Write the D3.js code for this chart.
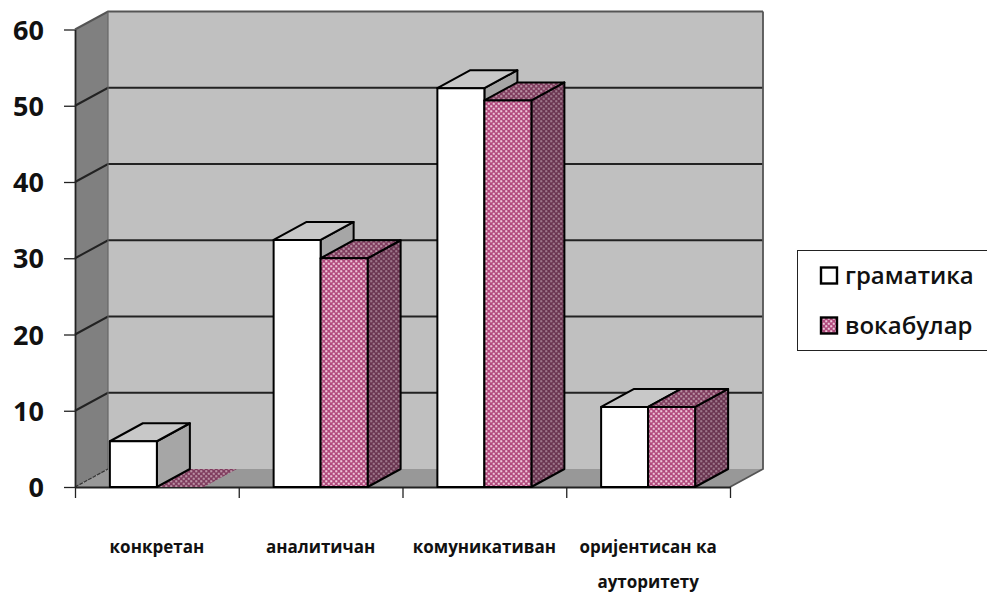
<!DOCTYPE html>
<html>
<head>
<meta charset="utf-8">
<script src="https://cdnjs.cloudflare.com/ajax/libs/d3/7.8.5/d3.min.js"></script>
<style>
html,body{margin:0;padding:0;background:#fff;}
svg{display:block;}
text{font-family:"Open Sans","Noto Sans",sans-serif;fill:#111;}
</style>
</head>
<body>
<svg id="chart" width="987" height="594"></svg>
<script>
// Chart content
const categories = ["конкретан", "аналитичан", "комуникативан", "оријентисан ка|ауторитету"];
const seriesNames = ["граматика", "вокабулар"];
const gramatika = [6, 32.4, 52.3, 10.5];
const vokabular = [0, 30, 50.7, 10.5];
const yTicks = [0, 10, 20, 30, 40, 50, 60];

const svg = d3.select("#chart");

// Oblique projection: every point gets a screen offset according to its depth
const depth = {dx: 33, dy: -18};
const x = d3.scaleBand().domain(categories).range([75, 730]);
const y = d3.scaleLinear().domain([0, 60]).range([487, 29.5]);
const series = d3.scaleBand().domain(seriesNames).range([0, x.bandwidth()]).paddingInner(0).paddingOuter(0.742);

const line = d3.line();
const poly = pts => line(pts) + "Z";
const back = ([a, b]) => [a + depth.dx, b + depth.dy];

// Fill patterns for the pink series, one per face shade
const defs = svg.append("defs");
function dotPattern(id, base, dot, hole) {
  const p = defs.append("pattern").attr("id", id)
    .attr("patternUnits", "userSpaceOnUse").attr("width", 5).attr("height", 5);
  p.append("rect").attr("width", 5).attr("height", 5).attr("fill", base);
  [[1.25, 1.25], [3.75, 3.75]].forEach(([a, b]) =>
    p.append("circle").attr("cx", a).attr("cy", b).attr("r", 1.3).attr("fill", dot));
  [[1.25, 1.25], [3.75, 3.75]].forEach(([a, b]) =>
    p.append("rect").attr("x", a - 0.5).attr("y", b - 0.5).attr("width", 1).attr("height", 1).attr("fill", hole));
}
dotPattern("pinkFront", "#b04a7c", "#dc9cba", "#f8ebf1");
dotPattern("pinkTop", "#7f3c5e", "#a9798f", "#c6a5b5");
dotPattern("pinkSide", "#693450", "#8f647a", "#a88a99");

const x0 = x.range()[0], x1 = x.range()[1], y0 = y(0), yTop = y(60);

// Back wall, side wall and floor
svg.append("path").attr("fill", "#c0c0c0")
  .attr("d", poly([back([x0, yTop]), back([x1, yTop]), back([x1, y0]), back([x0, y0])]));
svg.append("path").attr("fill", "#808080")
  .attr("d", poly([[x0, yTop], back([x0, yTop]), back([x0, y0]), [x0, y0]]));
svg.append("path").attr("fill", "#989898")
  .attr("d", poly([[x0, y0], back([x0, y0]), back([x1, y0]), [x1, y0]]));

// Gridlines run along the side wall and across the back wall
const grid = svg.append("g").attr("fill", "none").attr("stroke", "#222").attr("stroke-width", 2);
yTicks.slice(1).forEach(t => {
  grid.append("path").attr("stroke", t === 60 ? "#555" : "#222")
    .attr("d", line([[x0, y(t)], back([x0, y(t)]), back([x1, y(t)])]));
});
// Outer edges of the walls
grid.append("path").attr("stroke", "#666").attr("stroke-width", 1.2)
  .attr("d", line([back([x0, yTop]), back([x0, y0])]));
grid.append("path").attr("stroke", "#555").attr("stroke-width", 1.8)
  .attr("d", line([back([x1, yTop]), back([x1, y0]), [x1, y0]]));
grid.append("path").attr("stroke", "#333").attr("stroke-width", 1.2).attr("stroke-dasharray", "4 1")
  .attr("d", line([[x0, y0], back([x0, y0])]));

// Axes use the library's generators; ticks point outwards
const axisLeft = svg.append("g").attr("transform", `translate(${x0},0)`)
  .call(d3.axisLeft(y).tickValues(yTicks).tickSize(11).tickPadding(20).tickSizeOuter(0));
axisLeft.selectAll("text").attr("font-size", 27).attr("font-weight", 700).attr("dy", "0.36em");

const tickPositions = categories.map(c => x(c)).concat([x1]);
const axisBottom = svg.append("g").attr("transform", `translate(0,${y0})`)
  .call(d3.axisBottom(d3.scaleIdentity().domain([x0, x1])).tickValues(tickPositions).tickSize(11).tickSizeOuter(0).tickFormat(""));
[axisLeft, axisBottom].forEach(a => {
  a.selectAll("path.domain").attr("stroke", "#222").attr("stroke-width", 1.8);
  a.selectAll("line").attr("stroke", "#222").attr("stroke-width", 1.3);
});

// Bars: each one is a front, a top and a right side
function drawBar(left, right, value, faces) {
  const top = y(value), g = svg.append("g").attr("stroke", "#000").attr("stroke-width", 2).attr("stroke-linejoin", "round");
  g.append("path").attr("fill", faces.side)
    .attr("d", poly([[right, top], back([right, top]), back([right, y0]), [right, y0]]));
  g.append("path").attr("fill", faces.top)
    .attr("d", poly([[left, top], back([left, top]), back([right, top]), [right, top]]));
  g.append("path").attr("fill", faces.front)
    .attr("d", poly([[left, top], [right, top], [right, y0], [left, y0]]));
}
const whiteFaces = {front: "#fff", top: "#c8c8c8", side: "#a6a6a6"};
const pinkFaces = {front: "url(#pinkFront)", top: "url(#pinkTop)", side: "url(#pinkSide)"};
categories.forEach((c, i) => {
  const g = x(c) + series(seriesNames[0]), p = x(c) + series(seriesNames[1]), w = series.bandwidth();
  if (vokabular[i] > 0) {
    drawBar(g, g + w, gramatika[i], whiteFaces);
    drawBar(p, p + w, vokabular[i], pinkFaces);
  } else {
    // A zero bar is only a flat patch lying on the floor
    svg.append("path").attr("fill", "url(#pinkTop)")
      .attr("d", poly([[p, y0], back([p, y0]), back([p + w, y0]), [p + w, y0]]));
    drawBar(g, g + w, gramatika[i], whiteFaces);
  }
});

// Category labels, split over two lines where needed
categories.forEach(c => {
  const cx = x(c) + x.bandwidth() / 2;
  c.split("|").forEach((t, j) => {
    svg.append("text").attr("x", cx).attr("y", 553 + j * 35)
      .attr("text-anchor", "middle").attr("font-size", 17).attr("font-weight", 700).text(t);
  });
});

// Legend box
const legend = svg.append("g");
legend.append("rect").attr("x", 797.5).attr("y", 250.5).attr("width", 195).attr("height", 100)
  .attr("fill", "#fff").attr("stroke", "#222").attr("stroke-width", 1);
const legendY = d3.scalePoint().domain(seriesNames).range([275.5, 325.5]);
const legendFill = ["#fff", "url(#pinkFront)"];
seriesNames.forEach((s, i) => {
  const yy = legendY(s);
  legend.append("rect").attr("x", 821).attr("y", yy - 8).attr("width", 16).attr("height", 16)
    .attr("fill", legendFill[i]).attr("stroke", "#000").attr("stroke-width", 2.4);
  legend.append("text").attr("x", 845).attr("y", yy + 8).attr("font-size", 24).attr("font-weight", 600).text(s);
});
</script>
</body>
</html>
